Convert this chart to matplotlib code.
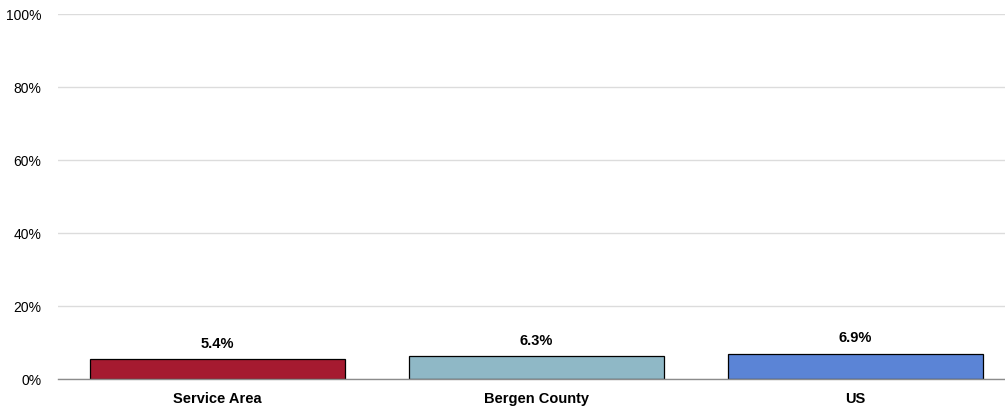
import matplotlib.pyplot as plt

plt.rcParams['font.family'] = ['Liberation Sans', 'DejaVu Sans']

categories = ['Service Area', 'Bergen County', 'US']
values = [5.4, 6.3, 6.9]
colors = ['#A51A30', '#8FB8C6', '#5B84D6']

fig = plt.figure(figsize=(10.05, 4.16), dpi=100)
ax = fig.add_axes([0.0577, 0.0889, 0.9522, 0.8774])

x = range(len(categories))
ax.bar(x, values, width=0.80, color=colors, edgecolor='black', linewidth=0.9, zorder=3)

# value labels above each bar
for xi, v in zip(x, values):
    ax.annotate(f'{v}%', (xi, v), xytext=(0, 6), textcoords='offset points',
                ha='center', va='bottom', fontsize=10.5, fontweight='bold')

ax.set_xlim(-0.5, 2.5)
ax.set_ylim(0, 100)
ax.set_yticks(range(0, 101, 20))
ax.set_yticklabels([f'{t}%' for t in range(0, 101, 20)], fontsize=10)
ax.set_xticks(list(x))
ax.set_xticklabels(categories, fontsize=10.5, fontweight='bold')
ax.tick_params(axis='both', length=0)
ax.tick_params(axis='y', pad=12)
ax.tick_params(axis='x', pad=9)

ax.yaxis.grid(True, color='#DCDCDC', linewidth=1, zorder=0)
for s in ['top', 'right', 'left']:
    ax.spines[s].set_visible(False)
ax.spines['bottom'].set_color('#8C8C8C')
ax.spines['bottom'].set_linewidth(1)
ax.spines['bottom'].set_zorder(4)

fig.savefig('out.png', dpi=100)
